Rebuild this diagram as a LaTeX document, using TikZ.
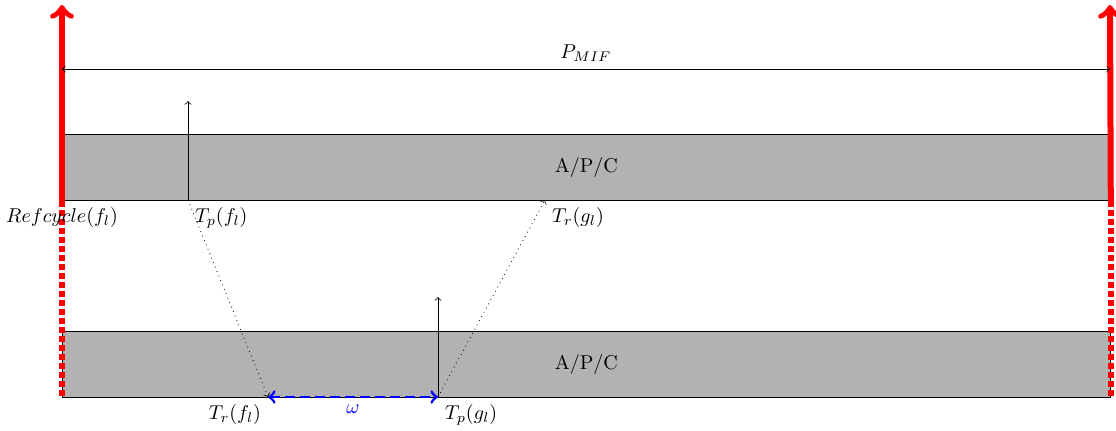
\documentclass[tikz,border=0pt]{standalone}
\usepackage{amsmath}
\usepackage{amssymb}
\usepackage{tikz}
\usepackage{color}

\begin{document}
\begin{tikzpicture}[x=0.5pt,y=-0.5pt,
  slot/.style={draw,fill=black!30,inner sep=0pt,minimum width=524pt,minimum height=33pt,anchor=north west},
  refline/.style={red,line width=3pt},
  hop/.style={dotted,->}]
\useasboundingbox (0,0) rectangle (1116,430);
% the two slots
\node[slot] (upper) at (62,134) {A/P/C};
\node[slot] (lower) at (62,331) {A/P/C};
% points where frames are sent and received
\coordinate (tpf) at (188,200);
\coordinate (trg) at (545,200);
\coordinate (trf) at (268,397);
\coordinate (tpg) at (438,397);
\coordinate (tpftop) at (188,101);
\coordinate (tpgtop) at (438,297);
% the reference cycle borders
\foreach \side/\x in {west/62, east/1110} {
  \coordinate (top\side) at (\x,5);
  \draw[refline,->] (upper.south \side) -- (top\side);
  \draw[refline,dash pattern=on 3pt off 1.5pt] (upper.south \side) -- (lower.south \side);
}
% the period
\coordinate (mifl) at (62,69);
\coordinate (mifr) at (1110,69);
\draw[<->] (mifl) -- node[above] (mif) {$P_{MIF}$} (mifr);
% sending and receiving
\draw[->] (tpf) -- (tpftop);
\draw[->] (tpg) -- (tpgtop);
\draw[hop] (tpf) -- (trf);
\draw[hop] (tpg) -- (trg);
\draw[blue,line width=1.4pt,dash pattern=on 5pt off 2.5pt,<->] (trf) -- node[below] (om) {$\omega$} (tpg);
% labels
\node[below] (ref) at (upper.south west) {$Refcycle(f_l)$};
\node[below right] (lbtpf) at (tpf) {$T_p(f_l)$};
\node[below right] (lbtrg) at (trg) {$T_r(g_l)$};
\node[below left] (lbtrf) at (trf) {$T_r(f_l)$};
\node[below right] (lbtpg) at (tpg) {$T_p(g_l)$};
\end{tikzpicture}
\end{document}
